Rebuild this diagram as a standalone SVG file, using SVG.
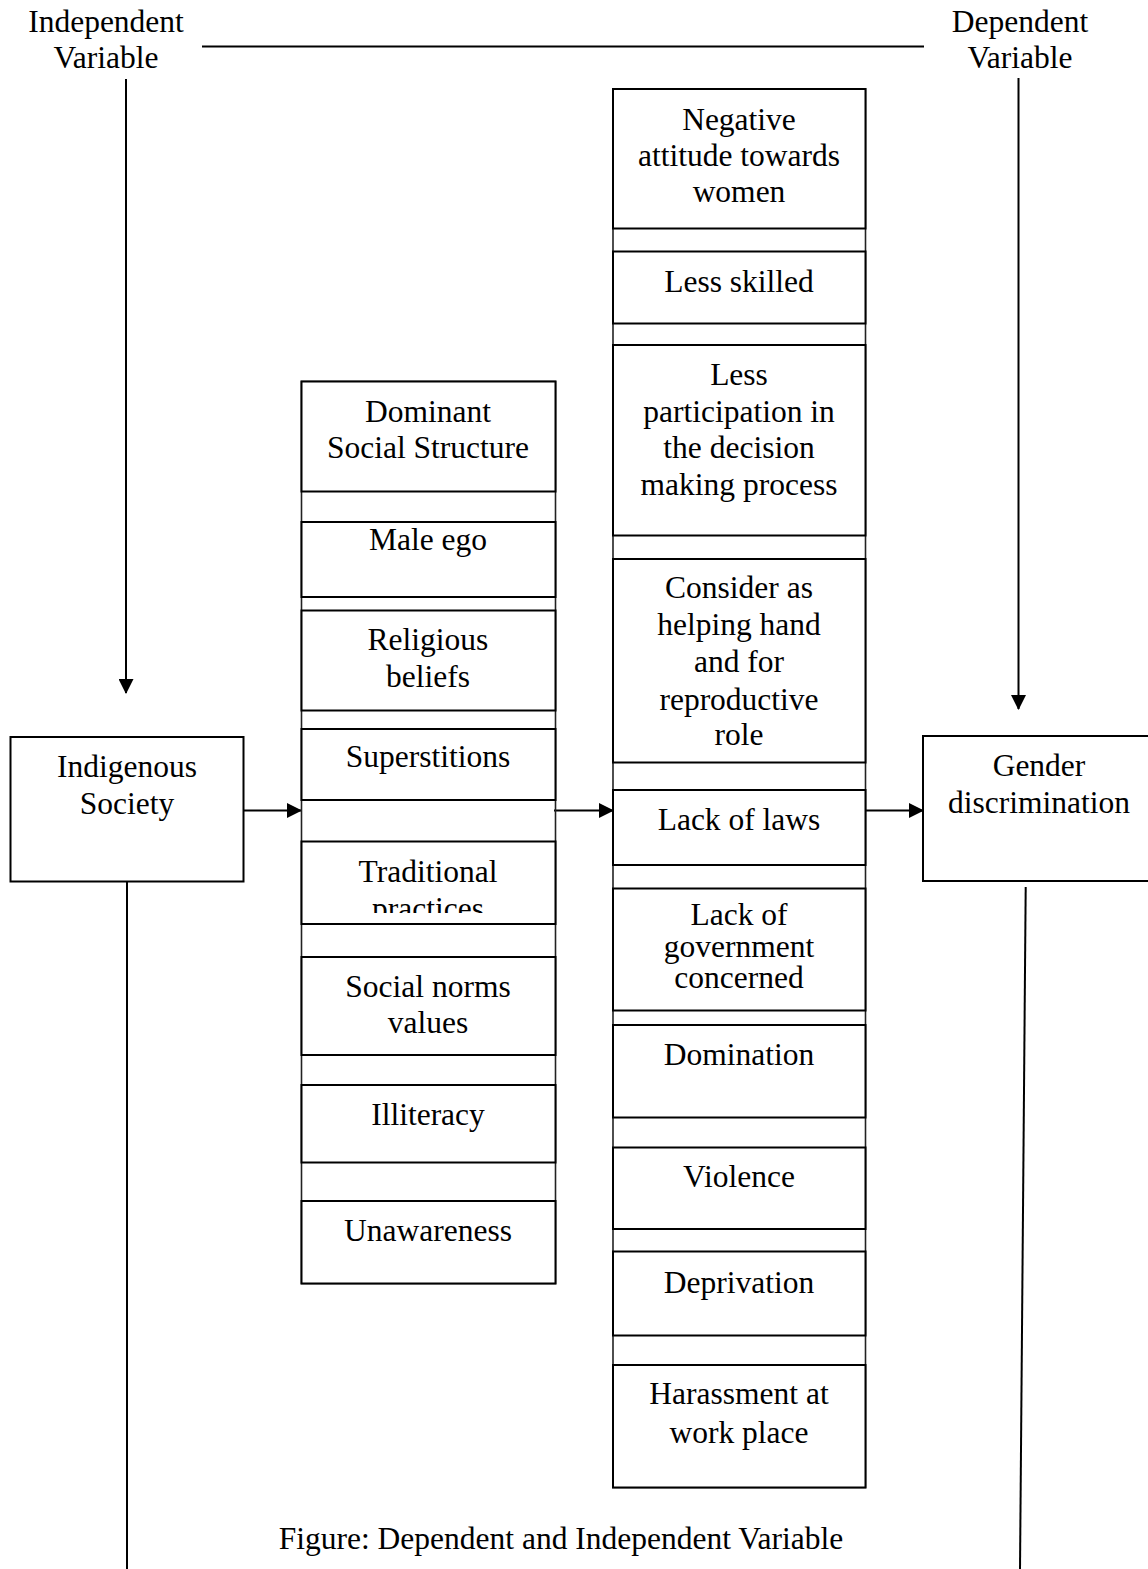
<svg xmlns="http://www.w3.org/2000/svg" width="1148" height="1569" viewBox="0 0 1148 1569">
<style>
.bx{fill:#fff;stroke:#000;stroke-width:2}
.frame{fill:none;stroke:#222;stroke-width:1.6}
.ln{fill:none;stroke:#000;stroke-width:2}
text{font-family:"Liberation Serif","Times New Roman",serif;font-size:31.5px;fill:#000;text-anchor:middle}
</style>
<defs>
<marker id="ah" markerWidth="15" markerHeight="15" refX="14" refY="7.5" orient="auto" markerUnits="userSpaceOnUse">
<path d="M0,0 L15,7.5 L0,15 Z" fill="#000"/>
</marker>
<clipPath id="clipTrad"><rect x="301" y="841" width="256" height="72"/></clipPath>
</defs>
<rect width="1148" height="1569" fill="#fff"/>

<g id="labels">
<text x="106" y="32">Independent</text>
<text x="106" y="68">Variable</text>
<text x="1020" y="32">Dependent</text>
<text x="1020" y="68">Variable</text>
</g>

<g id="connectors">
<line class="ln" x1="202" y1="46.5" x2="924" y2="46.5"/>
<line class="ln" x1="126" y1="79" x2="126" y2="693" marker-end="url(#ah)"/>
<line class="ln" x1="1018.5" y1="78" x2="1018.5" y2="709" marker-end="url(#ah)"/>
<line class="ln" x1="243.5" y1="810.5" x2="301" y2="810.5" marker-end="url(#ah)"/>
<line class="ln" x1="554" y1="810.5" x2="613" y2="810.5" marker-end="url(#ah)"/>
<line class="ln" x1="866" y1="810.5" x2="923" y2="810.5" marker-end="url(#ah)"/>
<line class="ln" x1="127" y1="881.5" x2="127" y2="1569"/>
<line class="ln" x1="1025.7" y1="887" x2="1020" y2="1569"/>
</g>

<g id="indigenous-society">
<rect class="bx" x="10.5" y="737" width="233" height="144.5"/>
<text x="127" y="777">Indigenous</text>
<text x="127" y="814">Society</text>
</g>

<g id="gender-discrimination">
<rect class="bx" x="923" y="736" width="230" height="145"/>
<text x="1039" y="776">Gender</text>
<text x="1039" y="812.5">discrimination</text>
</g>

<g id="middle-column">
<rect class="frame" x="301.5" y="381.5" width="254" height="902"/>
<g id="m1"><rect class="bx" x="301.5" y="381.5" width="254" height="110"/>
<text x="428" y="421.5">Dominant</text><text x="428" y="458.3">Social Structure</text></g>
<g id="m2"><rect class="bx" x="301.5" y="522" width="254" height="75"/>
<text x="428" y="550">Male ego</text></g>
<g id="m3"><rect class="bx" x="301.5" y="610.5" width="254" height="100"/>
<text x="428" y="650">Religious</text><text x="428" y="686.7">beliefs</text></g>
<g id="m4"><rect class="bx" x="301.5" y="729" width="254" height="71"/>
<text x="428" y="767.3">Superstitions</text></g>
<g id="m5"><rect class="bx" x="301.5" y="841.5" width="254" height="82.5"/>
<g clip-path="url(#clipTrad)"><text x="428" y="881.7">Traditional</text><text x="428" y="918.5">practices</text></g></g>
<g id="m6"><rect class="bx" x="301.5" y="957" width="254" height="98"/>
<text x="428" y="996.7">Social norms</text><text x="428" y="1032.7">values</text></g>
<g id="m7"><rect class="bx" x="301.5" y="1085" width="254" height="77.5"/>
<text x="428" y="1125">Illiteracy</text></g>
<g id="m8"><rect class="bx" x="301.5" y="1201" width="254" height="82.5"/>
<text x="428" y="1240.7">Unawareness</text></g>
</g>

<g id="right-column">
<rect class="frame" x="613" y="89" width="252.5" height="1398.5"/>
<g id="r1"><rect class="bx" x="613" y="89" width="252.5" height="139.5"/>
<text x="739" y="130">Negative</text><text x="739" y="166">attitude towards</text><text x="739" y="202.3">women</text></g>
<g id="r2"><rect class="bx" x="613" y="251.5" width="252.5" height="72"/>
<text x="739" y="291.7">Less skilled</text></g>
<g id="r3"><rect class="bx" x="613" y="345" width="252.5" height="190.5"/>
<text x="739" y="385">Less</text><text x="739" y="421.7">participation in</text><text x="739" y="458.3">the decision</text><text x="739" y="495">making process</text></g>
<g id="r4"><rect class="bx" x="613" y="559" width="252.5" height="203.5"/>
<text x="739" y="598.3">Consider as</text><text x="739" y="635">helping hand</text><text x="739" y="671.7">and for</text><text x="739" y="710">reproductive</text><text x="739" y="745">role</text></g>
<g id="r5"><rect class="bx" x="613" y="790" width="252.5" height="75"/>
<text x="739" y="830">Lack of laws</text></g>
<g id="r6"><rect class="bx" x="613" y="888.5" width="252.5" height="122"/>
<text x="739" y="925">Lack of</text><text x="739" y="956.7">government</text><text x="739" y="988.3">concerned</text></g>
<g id="r7"><rect class="bx" x="613" y="1025" width="252.5" height="92.5"/>
<text x="739" y="1065">Domination</text></g>
<g id="r8"><rect class="bx" x="613" y="1147.5" width="252.5" height="81.5"/>
<text x="739" y="1187.3">Violence</text></g>
<g id="r9"><rect class="bx" x="613" y="1251.5" width="252.5" height="84"/>
<text x="739" y="1292.7">Deprivation</text></g>
<g id="r10"><rect class="bx" x="613" y="1365" width="252.5" height="122.5"/>
<text x="739" y="1404.3">Harassment at</text><text x="739" y="1443.3">work place</text></g>
</g>

<g id="caption">
<text x="561" y="1549">Figure: Dependent and Independent Variable</text>
</g>
</svg>
